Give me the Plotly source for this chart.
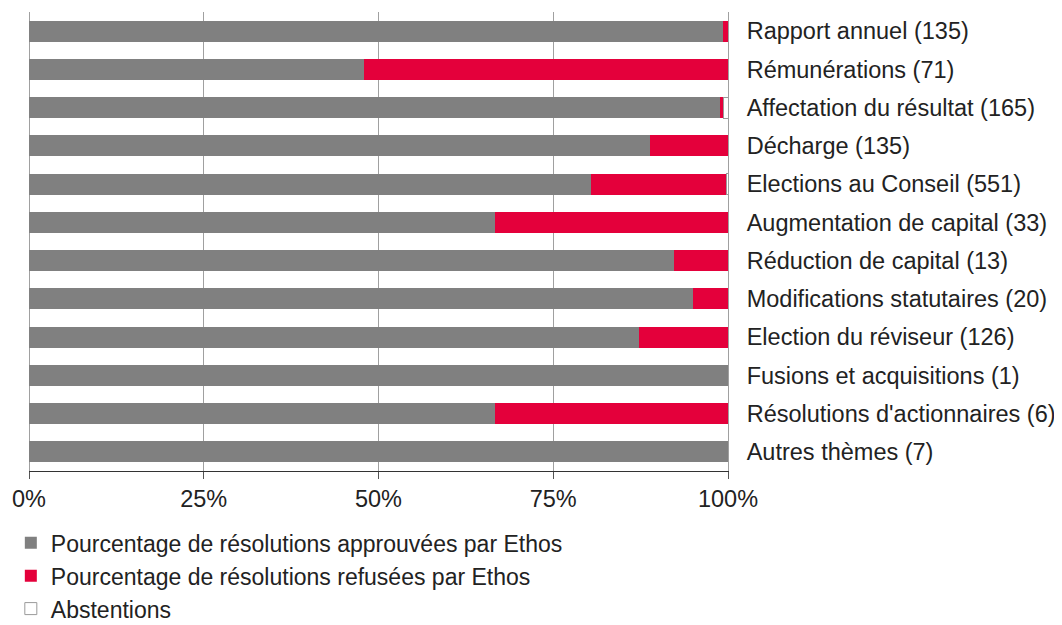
import plotly.graph_objects as go

categories = [
    "Rapport annuel (135)",
    "Rémunérations (71)",
    "Affectation du résultat (165)",
    "Décharge (135)",
    "Elections au Conseil (551)",
    "Augmentation de capital (33)",
    "Réduction de capital (13)",
    "Modifications statutaires (20)",
    "Election du réviseur (126)",
    "Fusions et acquisitions (1)",
    "Résolutions d'actionnaires (6)",
    "Autres thèmes (7)",
]
approved = [99.3, 47.9, 98.8, 88.9, 80.4, 66.7, 92.3, 95.0, 87.3, 100.0, 66.7, 100.0]
refused = [0.7, 52.1, 0.6, 11.1, 19.4, 33.3, 7.7, 5.0, 12.7, 0.0, 33.3, 0.0]
abstained = [0.0, 0.0, 0.6, 0.0, 0.2, 0.0, 0.0, 0.0, 0.0, 0.0, 0.0, 0.0]

series_names = [
    "Pourcentage de résolutions approuvées par Ethos",
    "Pourcentage de résolutions refusées par Ethos",
    "Abstentions",
]
tick_vals = [0, 25, 50, 75, 100]
tick_text = ["0%", "25%", "50%", "75%", "100%"]

FONT = "Liberation Sans, Arial, sans-serif"
TXT = "#222222"
FS = 23.5

fig = go.Figure()
fig.add_trace(go.Bar(y=categories, x=approved, orientation="h", name=series_names[0],
                     marker=dict(color="#808080", line=dict(width=0)), width=0.55,
                     legendgroup="a"))
fig.add_trace(go.Bar(y=categories, x=refused, orientation="h", name=series_names[1],
                     marker=dict(color="#e4003b", line=dict(width=0)), width=0.55,
                     legendgroup="b"))
fig.add_trace(go.Bar(y=categories, x=abstained, orientation="h", name=series_names[2],
                     marker=dict(color="#ffffff", line=dict(width=1, color="#9a9a9a")), width=0.55,
                     legendgroup="c"))

fig.update_layout(
    barmode="stack",
    width=1054, height=617,
    margin=dict(l=21, r=334, t=4, b=154),
    paper_bgcolor="white", plot_bgcolor="white",
    font=dict(family=FONT, size=FS, color=TXT),
    showlegend=True,
    legend=dict(
        x=-0.026, xanchor="left", xref="paper",
        y=0.168, yanchor="top", yref="container",
        traceorder="normal", tracegroupgap=4,
        font=dict(family=FONT, size=23, color=TXT),
        itemwidth=30, bgcolor="rgba(0,0,0,0)",
    ),
)
fig.update_xaxes(
    range=[0, 100], tickvals=tick_vals, ticktext=tick_text,
    showgrid=True, gridcolor="#a0a0a0", gridwidth=1,
    zeroline=True, zerolinecolor="#a0a0a0", zerolinewidth=1,
    showline=True, linecolor="#333333", linewidth=1,
    ticks="outside", ticklen=7, tickcolor="#555555",
    tickfont=dict(family=FONT, size=FS, color=TXT),
    fixedrange=True,
)
fig.update_yaxes(
    categoryorder="array", categoryarray=categories[::-1],
    side="right", showgrid=False, zeroline=False,
    showline=True, linecolor="#a0a0a0", linewidth=1,
    ticks="", ticklabelstandoff=13,
    tickfont=dict(family=FONT, size=FS, color=TXT),
    fixedrange=True,
)

fig.write_html("out.html")
